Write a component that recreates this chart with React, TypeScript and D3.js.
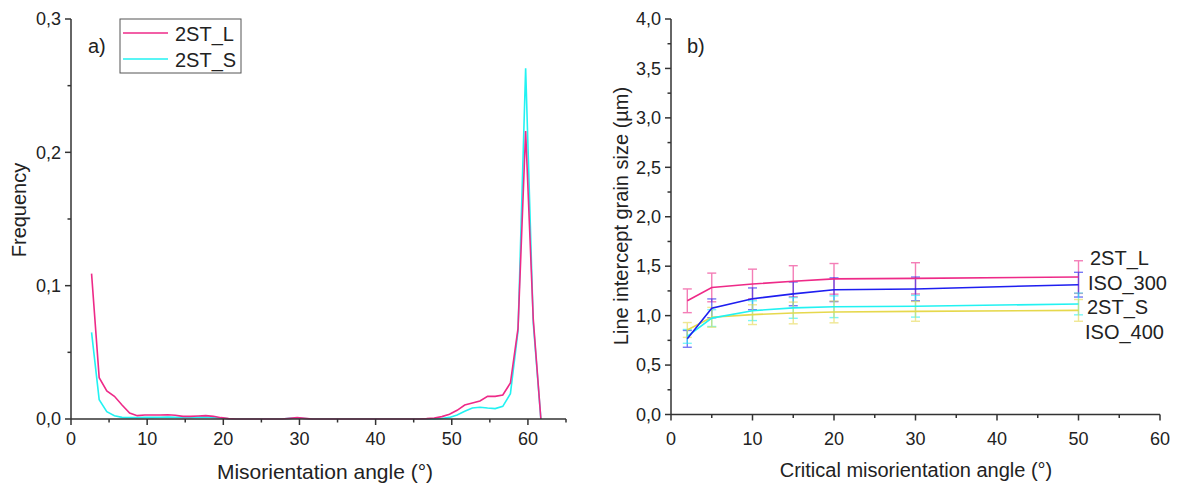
import React from "react";
import * as d3 from "d3";

// ---------- Panel a) data ----------
const angleBins = [
  2.7, 3.7, 4.7, 5.7, 6.7, 7.7, 8.7, 9.7, 10.7, 11.7, 12.7, 13.7, 14.7, 15.7, 16.7, 17.7, 18.7, 19.7, 20.7,
  21.7, 22.7, 23.7, 24.7, 25.7, 26.7, 27.7, 28.7, 29.7, 30.7, 31.7, 32.7, 33.7, 34.7, 35.7, 36.7, 37.7,
  38.7, 39.7, 40.7, 41.7, 42.7, 43.7, 44.7, 45.7, 46.7, 47.7, 48.7, 49.7, 50.7, 51.7, 52.7, 53.7, 54.7,
  55.7, 56.7, 57.7, 58.7, 59.7, 60.7, 61.7,
];
const freq2STL = [
  0.109, 0.031, 0.021, 0.017, 0.0105, 0.0045, 0.0025, 0.003, 0.003, 0.003, 0.0032, 0.0028, 0.002, 0.002, 0.0022, 0.0025, 0.002, 0.001, 0.0003,
  0, 0, 0, 0, 0, 0, 0, 0.0005, 0.001, 0.0005, 0, 0, 0, 0, 0, 0, 0,
  0, 0, 0, 0, 0, 0, 0, 0, 0.0003, 0.0008, 0.0018, 0.0035, 0.0065, 0.0105, 0.012, 0.0135, 0.017,
  0.017, 0.018, 0.027, 0.068, 0.216, 0.075, 0,
];
const freq2STS = [
  0.065, 0.0145, 0.0055, 0.0025, 0.0012, 0.001, 0.001, 0.0012, 0.0012, 0.0013, 0.0015, 0.0013, 0.0012, 0.0012, 0.0014, 0.0015, 0.0012, 0.0008, 0.0002,
  0, 0, 0, 0, 0, 0, 0, 0.0005, 0.0008, 0.0004, 0, 0, 0, 0, 0, 0, 0,
  0, 0, 0, 0, 0, 0, 0, 0, 0, 0, 0.0004, 0.0012, 0.003, 0.0058, 0.0082, 0.0088, 0.0082,
  0.0078, 0.0095, 0.019, 0.066, 0.263, 0.072, 0,
];
const leftXTicks = [0, 10, 20, 30, 40, 50, 60];
const leftXMinor = [5, 15, 25, 35, 45, 55, 65];
const leftYTicks = [0, 0.1, 0.2, 0.3];
const leftYMinor = [0.05, 0.15, 0.25];

// ---------- Panel b) data ----------
const critAngles = [2, 5, 10, 15, 20, 30, 50];
const size2STL = [1.15, 1.285, 1.32, 1.348, 1.372, 1.377, 1.39];
const err2STL = [0.12, 0.145, 0.15, 0.157, 0.155, 0.158, 0.165];
const sizeISO300 = [0.765, 1.074, 1.17, 1.22, 1.262, 1.27, 1.313];
const errISO300 = [0.085, 0.095, 0.11, 0.12, 0.12, 0.12, 0.125];
const size2STS = [0.79, 0.975, 1.05, 1.078, 1.09, 1.095, 1.118];
const err2STS = [0.07, 0.085, 0.1, 0.105, 0.11, 0.11, 0.11];
const sizeISO400 = [0.855, 0.983, 1.01, 1.027, 1.037, 1.043, 1.053];
const errISO400 = [0.075, 0.1, 0.1, 0.11, 0.11, 0.1, 0.11];
const seriesNamesB = ["2ST_L", "ISO_300", "2ST_S", "ISO_400"];
const rightXTicks = [0, 10, 20, 30, 40, 50, 60];
const rightXMinor = [5, 15, 25, 35, 45, 55];
const rightYTicks = [0, 0.5, 1, 1.5, 2, 2.5, 3, 3.5, 4];
const rightYMinor = [0.25, 0.75, 1.25, 1.75, 2.25, 2.75, 3.25, 3.75];

const PINK = "#ee2a88";
const CYAN = "#22f2f2";
const BLUE = "#1e1ef0";
const YELLOW = "#e6d84c";
const AXIS = "#333";
const TEXT = "#222";
const FONT = "'Liberation Sans', Arial, sans-serif";

const fmt = (v: number) => v.toFixed(1).replace(".", ",");

export default function App() {
  // panel a scales
  const xa = d3.scaleLinear().domain([0, 65]).range([71, 566]);
  const ya = d3.scaleLinear().domain([0, 0.3]).range([419, 19]);
  // panel b scales
  const xb = d3.scaleLinear().domain([0, 60]).range([671, 1160]);
  const yb = d3.scaleLinear().domain([0, 4]).range([414.5, 19]);

  const lineA = d3
    .line<number>()
    .x((_, i) => xa(angleBins[i]))
    .y((d) => ya(d));
  const lineB = d3
    .line<number>()
    .x((_, i) => xb(critAngles[i]))
    .y((d) => yb(d));

  const seriesB = [
    { name: seriesNamesB[0], vals: size2STL, errs: err2STL, color: PINK },
    { name: seriesNamesB[1], vals: sizeISO300, errs: errISO300, color: BLUE },
    { name: seriesNamesB[2], vals: size2STS, errs: err2STS, color: CYAN },
    { name: seriesNamesB[3], vals: sizeISO400, errs: errISO400, color: YELLOW },
  ];
  const labelYB = [265, 290, 314, 339];
  const labelXB = [1090, 1088, 1087, 1085];

  const tickFont = 18;

  return (
    <svg
      width={1177}
      height={484}
      style={{ position: "absolute", left: 0, top: 0, background: "#fff" }}
      fontFamily={FONT}
    >
      {/* ================= Panel a ================= */}
      <g>
        {/* lines */}
        <path d={lineA(freq2STS) || ""} fill="none" stroke={CYAN} strokeWidth={1.6} />
        <path d={lineA(freq2STL) || ""} fill="none" stroke={PINK} strokeWidth={1.6} />
        {/* axes */}
        <line x1={xa(0)} x2={xa(0)} y1={ya(0.3)} y2={ya(0)} stroke={AXIS} strokeWidth={1.5} />
        <line x1={xa(0)} x2={xa(65)} y1={ya(0)} y2={ya(0)} stroke={AXIS} strokeWidth={1.5} />
        {leftYTicks.map((t) => (
          <g key={"lay" + t}>
            <line x1={xa(0) - 6} x2={xa(0)} y1={ya(t)} y2={ya(t)} stroke={AXIS} strokeWidth={1.5} />
            <text x={xa(0) - 10} y={ya(t)} dy="0.35em" textAnchor="end" fontSize={tickFont} fill={TEXT}>
              {fmt(t)}
            </text>
          </g>
        ))}
        {leftYMinor.map((t) => (
          <line key={"laym" + t} x1={xa(0) - 3.5} x2={xa(0)} y1={ya(t)} y2={ya(t)} stroke={AXIS} strokeWidth={1.5} />
        ))}
        {leftXTicks.map((t) => (
          <g key={"lax" + t}>
            <line x1={xa(t)} x2={xa(t)} y1={ya(0)} y2={ya(0) + 6} stroke={AXIS} strokeWidth={1.5} />
            <text x={xa(t)} y={445} textAnchor="middle" fontSize={tickFont} fill={TEXT}>
              {t}
            </text>
          </g>
        ))}
        {leftXMinor.map((t) => (
          <line key={"laxm" + t} x1={xa(t)} x2={xa(t)} y1={ya(0)} y2={ya(0) + 3.5} stroke={AXIS} strokeWidth={1.5} />
        ))}
        {/* titles */}
        <text x={325} y={479} textAnchor="middle" fontSize={21} fill={TEXT}>
          Misorientation angle (°)
        </text>
        <text transform="translate(26,210) rotate(-90)" textAnchor="middle" fontSize={20} fill={TEXT}>
          Frequency
        </text>
        <text x={88} y={53} fontSize={20} fill={TEXT}>
          a)
        </text>
        {/* legend */}
        <rect x={120} y={19} width={121} height={54} fill="#fff" stroke="#555" strokeWidth={1} />
        <line x1={123} x2={168} y1={33} y2={33} stroke={PINK} strokeWidth={1.6} />
        <line x1={123} x2={168} y1={59} y2={59} stroke={CYAN} strokeWidth={1.6} />
        <text x={175} y={40.5} fontSize={20} fill={TEXT}>
          2ST_L
        </text>
        <text x={175} y={66.5} fontSize={20} fill={TEXT}>
          2ST_S
        </text>
      </g>

      {/* ================= Panel b ================= */}
      <g>
        {/* error bars */}
        {seriesB.map((s) => (
          <g key={"eb" + s.name} stroke={s.color} strokeWidth={1.4} opacity={0.6}>
            {s.vals.map((v, i) => {
              const x = xb(critAngles[i]);
              const top = yb(v + s.errs[i]);
              const bot = yb(v - s.errs[i]);
              return (
                <g key={i}>
                  <line x1={x} x2={x} y1={top} y2={bot} />
                  <line x1={x - 4.5} x2={x + 4.5} y1={top} y2={top} />
                  <line x1={x - 4.5} x2={x + 4.5} y1={bot} y2={bot} />
                </g>
              );
            })}
          </g>
        ))}
        {/* lines */}
        {[3, 2, 1, 0].map((k) => (
          <path key={"lb" + k} d={lineB(seriesB[k].vals) || ""} fill="none" stroke={seriesB[k].color} strokeWidth={1.6} />
        ))}
        {/* axes */}
        <line x1={xb(0)} x2={xb(0)} y1={yb(4)} y2={yb(0)} stroke={AXIS} strokeWidth={1.5} />
        <line x1={xb(0)} x2={xb(60)} y1={yb(0)} y2={yb(0)} stroke={AXIS} strokeWidth={1.5} />
        {rightYTicks.map((t) => (
          <g key={"rby" + t}>
            <line x1={xb(0) - 6} x2={xb(0)} y1={yb(t)} y2={yb(t)} stroke={AXIS} strokeWidth={1.5} />
            <text x={xb(0) - 10} y={yb(t)} dy="0.35em" textAnchor="end" fontSize={tickFont} fill={TEXT}>
              {fmt(t)}
            </text>
          </g>
        ))}
        {rightYMinor.map((t) => (
          <line key={"rbym" + t} x1={xb(0) - 3.5} x2={xb(0)} y1={yb(t)} y2={yb(t)} stroke={AXIS} strokeWidth={1.5} />
        ))}
        {rightXTicks.map((t) => (
          <g key={"rbx" + t}>
            <line x1={xb(t)} x2={xb(t)} y1={yb(0)} y2={yb(0) + 6} stroke={AXIS} strokeWidth={1.5} />
            <text x={xb(t)} y={445} textAnchor="middle" fontSize={tickFont} fill={TEXT}>
              {t}
            </text>
          </g>
        ))}
        {rightXMinor.map((t) => (
          <line key={"rbxm" + t} x1={xb(t)} x2={xb(t)} y1={yb(0)} y2={yb(0) + 3.5} stroke={AXIS} strokeWidth={1.5} />
        ))}
        {/* titles */}
        <text x={916} y={477} textAnchor="middle" fontSize={20} fill={TEXT}>
          Critical misorientation angle (°)
        </text>
        <text transform="translate(628,216) rotate(-90)" textAnchor="middle" fontSize={20} fill={TEXT}>
          Line intercept grain size (µm)
        </text>
        <text x={687} y={53} fontSize={20} fill={TEXT}>
          b)
        </text>
        {seriesB.map((s, i) => (
          <text key={"lab" + s.name} x={labelXB[i]} y={labelYB[i]} fontSize={20} fill={TEXT}>
            {s.name}
          </text>
        ))}
      </g>
    </svg>
  );
}
